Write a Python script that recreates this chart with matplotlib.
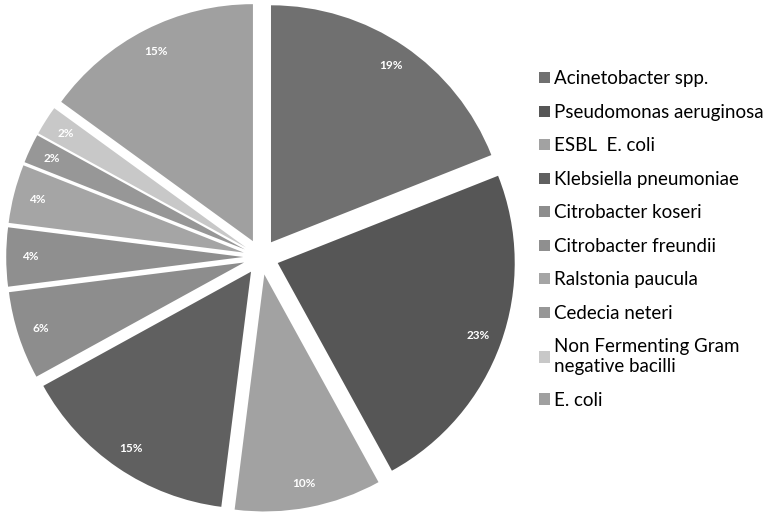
import matplotlib.pyplot as plt

labels = ["Acinetobacter spp.", "Pseudomonas aeruginosa", "ESBL  E. coli",
          "Klebsiella pneumoniae", "Citrobacter koseri", "Citrobacter freundii",
          "Ralstonia paucula", "Cedecia neteri",
          "Non Fermenting Gram\nnegative bacilli", "E. coli"]
values = [19, 23, 10, 15, 6, 4, 4, 2, 2, 15]
colors = ["#707070", "#565656", "#a2a2a2", "#606060", "#8d8d8d",
          "#8f8f8f", "#a5a5a5", "#979797", "#c8c8c8", "#a0a0a0"]

plt.rcParams['font.family'] = ['Lato', 'DejaVu Sans']

fig = plt.figure(figsize=(7.74, 5.19), dpi=100)
ax = fig.add_axes([0, 0, 1, 1])

wedges, texts, autotexts = ax.pie(
    values, colors=colors, startangle=90, counterclock=False,
    explode=[0.075] * len(values), autopct='%1.0f%%', pctdistance=0.9,
    wedgeprops=dict(linewidth=0),
    textprops=dict(color='white', fontsize=8.5, fontweight='bold'))

# place the pie: center ~ (261, 257) px, radius ~ 237 px
r = 237.0
cx, cy = 261.0, 257.0
ax.set_xlim(-cx / r, (774 - cx) / r)
ax.set_ylim(-(519 - cy) / r, cy / r)
ax.set_aspect('auto')
ax.axis('off')

leg = ax.legend(wedges, labels, loc='upper left', bbox_to_anchor=(0.675, 0.897),
                frameon=False, fontsize=13.5, labelspacing=0.88,
                handlelength=0.55, handleheight=0.55, handletextpad=0.25)

fig.savefig("out.png", dpi=100)
